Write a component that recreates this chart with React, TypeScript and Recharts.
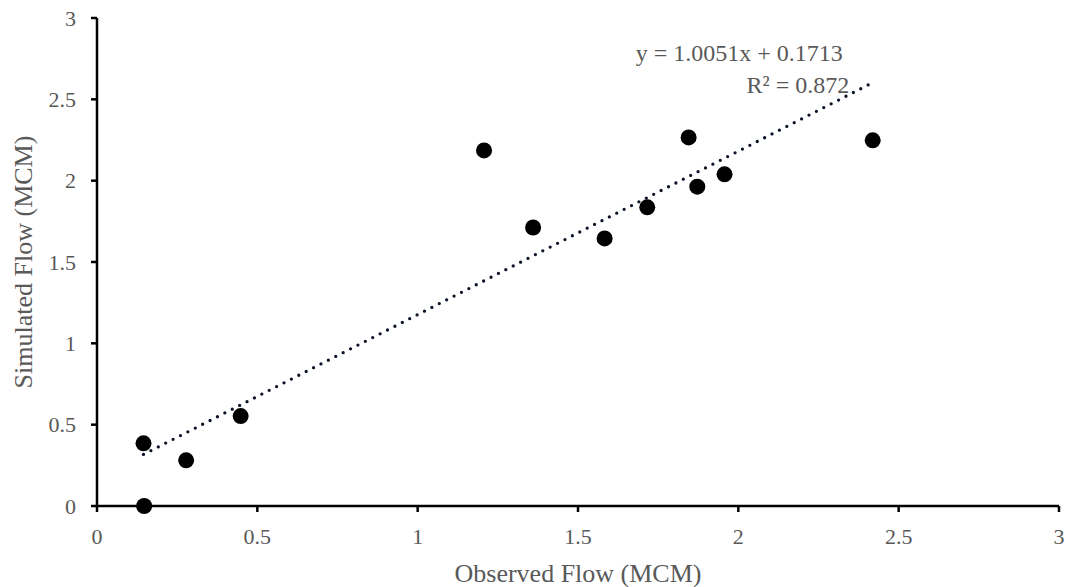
import React from "react";
import {
  ScatterChart, Scatter, XAxis, YAxis, ReferenceDot,
} from "recharts";

// observed vs simulated flow (MCM)
const observed = [0.145, 0.147, 0.278, 0.448, 1.207, 1.36, 1.583, 1.716, 1.845, 1.872, 1.957, 2.419];
const simulated = [0.385, 0, 0.281, 0.553, 2.186, 1.712, 1.645, 1.836, 2.266, 1.963, 2.039, 2.248];

const axisTicks = [0, 0.5, 1, 1.5, 2, 2.5, 3];

// linear trendline reported on the chart
const slope = 1.0051;
const intercept = 0.1713;
const rSquared = 0.872;
const equationText = `y = ${slope}x + ${intercept}`;
const r2Text = `R² = ${rSquared}`;

const points = observed.map((x, i) => ({ x, y: simulated[i] }));
const xMin = Math.min(...observed);
const xMax = Math.max(...observed);
const trend = [xMin, xMax].map(x => ({ x, y: slope * x + intercept }));

const FONT = '"Liberation Serif", "Times New Roman", serif';
const GREY = "#595959";
const tickStyle = { fontSize: 22, fill: GREY, fontFamily: FONT };

const Dot = (p: any) => <circle cx={p.cx} cy={p.cy} r={8} fill="#000" />;
const NoDot = () => <g />;

const EquationLabel = (p: any) => (
  <g fontFamily={FONT} fontSize={24} fill={GREY}>
    <text x={p.cx - 6.5} y={p.cy - 32.5} textAnchor="end">{equationText}</text>
    <text x={p.cx} y={p.cy} textAnchor="end">{r2Text}</text>
  </g>
);

const XTitle = ({ viewBox }: any) => (
  <text
    x={viewBox.x + viewBox.width / 2} y={viewBox.y + 76}
    textAnchor="middle" fontFamily={FONT} fontSize={26} fill={GREY}
  >
    Observed Flow (MCM)
  </text>
);

const YTitle = ({ viewBox }: any) => {
  const cx = 23;
  const cy = viewBox.y + viewBox.height / 2;
  return (
    <text
      x={cx} y={cy} transform={`rotate(-90 ${cx} ${cy})`}
      textAnchor="middle" dominantBaseline="central"
      fontFamily={FONT} fontSize={26} fill={GREY}
    >
      Simulated Flow (MCM)
    </text>
  );
};

export default function App() {
  return (
    <div style={{ position: "absolute", left: 0, top: 0, background: "#fff" }}>
      <ScatterChart width={1066} height={587} margin={{ top: 18, right: 7, left: 0, bottom: 0 }}>
        <XAxis
          type="number" dataKey="x" domain={[0, 3]} ticks={axisTicks}
          height={81} tick={tickStyle} tickSize={6} tickMargin={16}
          axisLine={{ stroke: "#000", strokeWidth: 2.5 }}
          tickLine={{ stroke: "#000", strokeWidth: 2.5 }}
          label={<XTitle />}
        />
        <YAxis
          type="number" dataKey="y" domain={[0, 3]} ticks={axisTicks}
          width={97} tick={tickStyle} tickSize={6} tickMargin={15}
          axisLine={{ stroke: "#000", strokeWidth: 2.5 }}
          tickLine={{ stroke: "#000", strokeWidth: 2.5 }}
          label={<YTitle />}
        />
        <Scatter data={points} shape={Dot} isAnimationActive={false} />
        <Scatter
          data={trend} shape={NoDot} isAnimationActive={false}
          line={{ stroke: "#0b1526", strokeWidth: 3.3, strokeDasharray: "0 8.3", strokeLinecap: "round" }}
          lineType="joint"
        />
        <ReferenceDot x={2.346} y={2.538} r={0} shape={EquationLabel} />
      </ScatterChart>
    </div>
  );
}
